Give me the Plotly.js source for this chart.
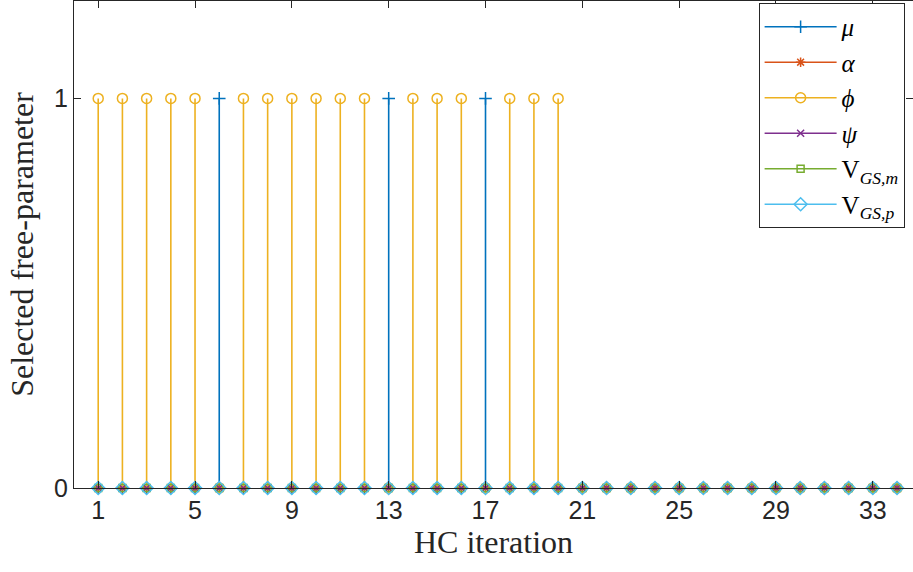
<!DOCTYPE html>
<html>
<head>
<meta charset="utf-8">
<script src="https://cdn.plot.ly/plotly-3.0.1.min.js"></script>
<style>
  html, body { margin: 0; padding: 0; background: #ffffff; }
  #chart { width: 913px; height: 572px; }
</style>
</head>
<body>
<div id="chart"></div>
<script>
// ---- data ----
const iterations = [1,2,3,4,5,6,7,8,9,10,11,12,13,14,15,16,17,18,19,20,21,22,23,24,25,26,27,28,29,30,31,32,33,34];
const muSel    = [0,0,0,0,0,1,0,0,0,0,0,0,1,0,0,0,1,0,0,0,0,0,0,0,0,0,0,0,0,0,0,0,0,0];
const alphaSel = [0,0,0,0,0,0,0,0,0,0,0,0,0,0,0,0,0,0,0,0,0,0,0,0,0,0,0,0,0,0,0,0,0,0];
const phiSel   = [1,1,1,1,1,0,1,1,1,1,1,1,0,1,1,1,0,1,1,1,0,0,0,0,0,0,0,0,0,0,0,0,0,0];
const psiSel   = [0,0,0,0,0,0,0,0,0,0,0,0,0,0,0,0,0,0,0,0,0,0,0,0,0,0,0,0,0,0,0,0,0,0];
const vgsmSel  = [0,0,0,0,0,0,0,0,0,0,0,0,0,0,0,0,0,0,0,0,0,0,0,0,0,0,0,0,0,0,0,0,0,0];
const vgspSel  = [0,0,0,0,0,0,0,0,0,0,0,0,0,0,0,0,0,0,0,0,0,0,0,0,0,0,0,0,0,0,0,0,0,0];

const seriesNames = ['<i>μ</i>', '<i>α</i>', '<i>ϕ</i>', '<i>ψ</i>', 'V<sub><i>GS,m</i></sub>', 'V<sub><i>GS,p</i></sub>'];
const xTickVals = [1,5,9,13,17,21,25,29,33];
const yTickVals = [0,1];

// ---- styles ----
const seriesValues = [muSel, alphaSel, phiSel, psiSel, vgsmSel, vgspSel];
const seriesColors = ['#0072BD', '#D95319', '#EDB120', '#7E2F8E', '#77AC30', '#4DBEEE'];
const seriesSymbols = ['cross-thin-open', 'asterisk-open', 'circle-open', 'x-thin-open', 'square-open', 'diamond-open'];
const seriesSizes = [9, 8, 10, 7, 7, 10];
const clear = 'rgba(0,0,0,0)';

function stemTrace(values, name, color, symbol, size) {
  const xs = [], ys = [], mc = [];
  iterations.forEach((it, i) => {
    xs.push(it, it, null);
    ys.push(values[i], 0, null);
    mc.push(color, clear, clear);
  });
  return {
    type: 'scatter', mode: 'lines+markers', name: name,
    x: xs, y: ys, connectgaps: false, cliponaxis: false,
    line: { color: color, width: 1.6 },
    marker: { symbol: symbol, size: size, color: mc, line: { width: 1.5 } },
    hoverinfo: 'skip'
  };
}

const traces = seriesValues.map((v, k) =>
  stemTrace(v, seriesNames[k], seriesColors[k], seriesSymbols[k], seriesSizes[k]));

const axisColor = '#262626';
const layout = {
  width: 913, height: 572,
  margin: { l: 74, r: 0, t: 1, b: 84 },
  paper_bgcolor: '#ffffff', plot_bgcolor: '#ffffff',
  showlegend: true,
  legend: {
    x: 0.990, xanchor: 'right', y: 0.996, yanchor: 'top',
    bgcolor: '#ffffff', bordercolor: axisColor, borderwidth: 1,
    font: { family: 'Liberation Serif, serif', size: 25, color: '#000000' },
    itemwidth: 72
  },
  xaxis: {
    range: [0, 34.66], tickmode: 'array', tickvals: xTickVals,
    ticktext: xTickVals.map(String),
    showgrid: false, zeroline: false,
    showline: true, linecolor: axisColor, linewidth: 1, mirror: 'ticks',
    ticks: 'inside', ticklen: 7, tickcolor: axisColor,
    tickfont: { family: 'Liberation Sans, Arial, sans-serif', size: 25, color: axisColor },
    title: { text: 'HC iteration', standoff: 6,
      font: { family: 'Liberation Serif, serif', size: 32, color: axisColor } }
  },
  yaxis: {
    range: [0, 1.25], tickmode: 'array', tickvals: yTickVals,
    ticktext: yTickVals.map(String),
    showgrid: false, zeroline: false,
    showline: true, linecolor: axisColor, linewidth: 1, mirror: 'ticks',
    ticks: 'inside', ticklen: 7, tickcolor: axisColor,
    tickfont: { family: 'Liberation Sans, Arial, sans-serif', size: 25, color: axisColor },
    title: { text: 'Selected free-parameter', standoff: 10,
      font: { family: 'Liberation Serif, serif', size: 32, color: axisColor } }
  }
};

Plotly.newPlot('chart', traces, layout, { displayModeBar: false, staticPlot: true });
</script>
</body>
</html>
